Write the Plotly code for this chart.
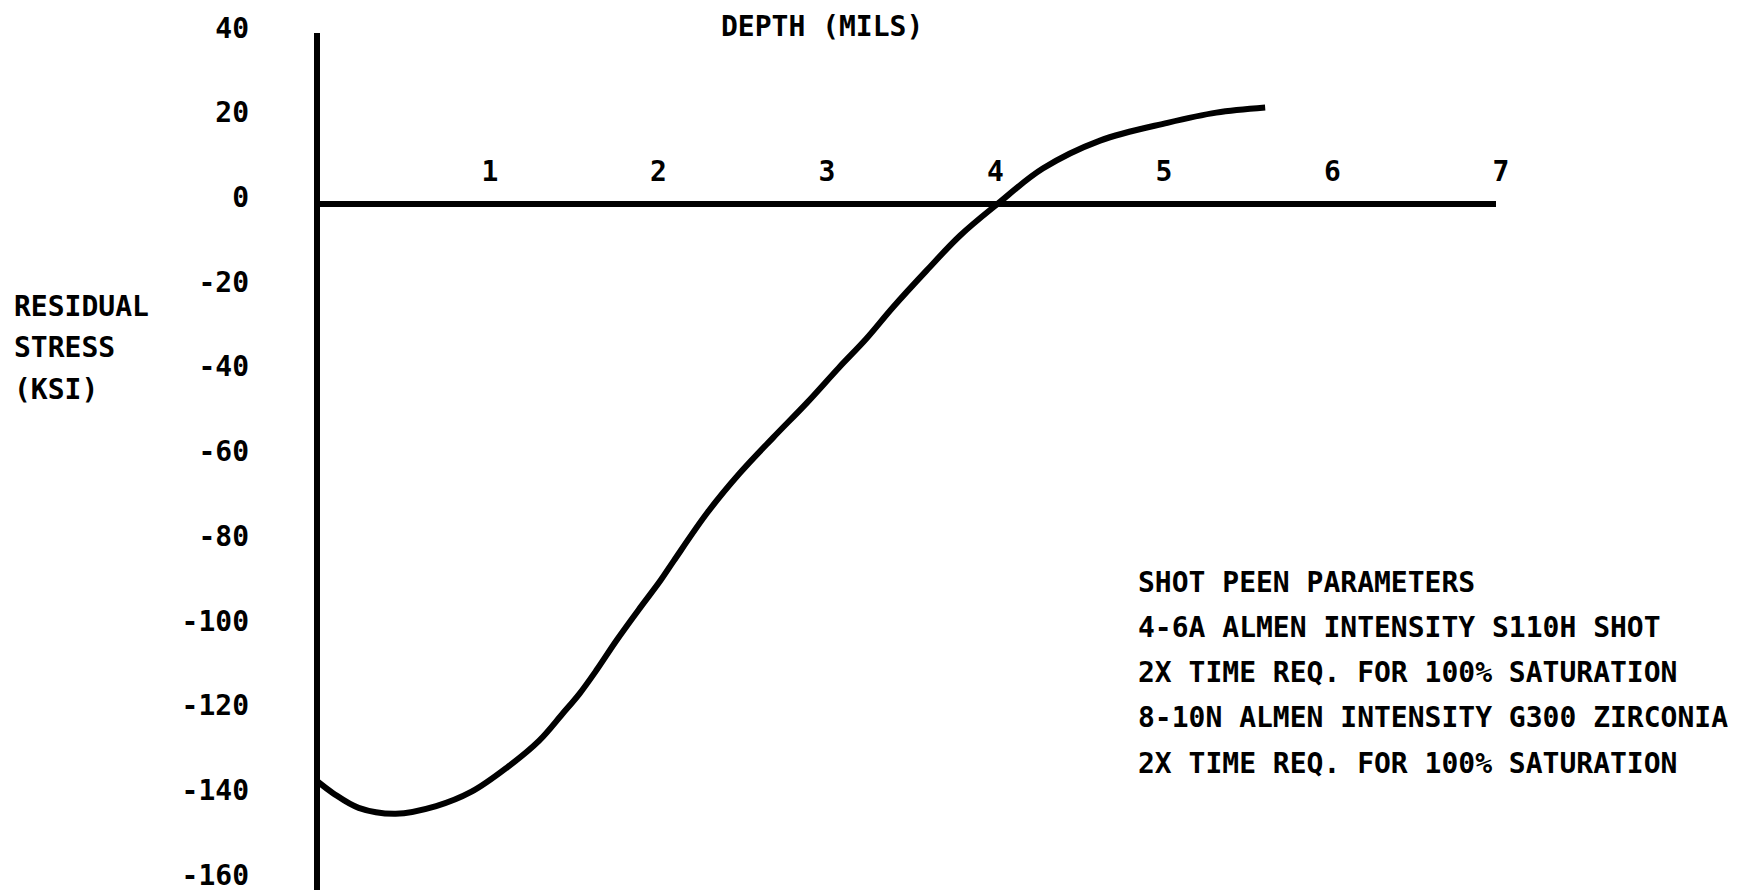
import plotly.graph_objects as go

# Residual stress profile vs. depth below the peened surface
depth_mils = [0.0, 0.1, 0.25, 0.47, 0.71, 0.92, 1.13, 1.32, 1.46, 1.56, 1.66, 1.78,
              1.92, 2.04, 2.12, 2.32, 2.51, 2.71, 2.91, 3.10, 3.26, 3.42, 3.62, 3.82,
              4.04, 4.31, 4.65, 5.05, 5.34, 5.63]
stress_ksi = [-136.1, -139.1, -142.5, -143.9, -142.1, -138.7, -133.0, -126.7, -120.3, -115.6,
              -110.1, -103.0, -95.3, -88.9, -84.2, -72.8, -63.6, -55.1, -46.9, -38.6,
              -31.9, -24.4, -15.7, -7.4, 0.0, 8.4, 15.0, 19.2, 21.6, 22.8]

x_ticks = [1, 2, 3, 4, 5, 6, 7]
x_tick_labels = ["1", "2", "3", "4", "5", "6", "7"]
y_ticks = [40, 20, 0, -20, -40, -60, -80, -100, -120, -140, -160]
y_tick_labels = ["40", "20", "0", "-20", "-40", "-60", "-80", "-100", "-120", "-140", "-160"]

x_title = "DEPTH (MILS)"
y_title_lines = ["RESIDUAL", "STRESS", "(KSI)"]
note_lines = [
    "SHOT PEEN PARAMETERS",
    "4-6A ALMEN INTENSITY S110H SHOT",
    "2X TIME REQ. FOR 100% SATURATION",
    "8-10N ALMEN INTENSITY G300 ZIRCONIA",
    "2X TIME REQ. FOR 100% SATURATION",
]

# Page geometry
W, H = 1748, 893
X_RANGE = [-0.015, 7.0]
Y_RANGE = [-161.9, 40.4]
ML, MT = 314, 33
PLOT_W, PLOT_H = 1182, 857
MR, MB = W - ML - PLOT_W, H - MT - PLOT_H

FONT = "DejaVu Sans Mono"
FS = 28
INK = "#000000"
TEXT_FONT = dict(family=FONT, size=FS, color=INK, weight="bold")


def paper_x(px):
    return (px - ML) / PLOT_W


def paper_y(py):
    return 1 - (py - MT) / PLOT_H


fig = go.Figure()
fig.add_trace(go.Scatter(
    x=depth_mils, y=stress_ksi, mode="lines",
    line=dict(color=INK, width=6, shape="spline", smoothing=1.0),
    hoverinfo="skip", showlegend=False,
))

# position of the stress = 0 line, as a fraction of the plot height
zero_pos = (0 - Y_RANGE[0]) / (Y_RANGE[1] - Y_RANGE[0])

annotations = [dict(
    text=x_title, xref="paper", yref="paper", x=paper_x(822), y=paper_y(26),
    xanchor="center", yanchor="middle", showarrow=False, font=TEXT_FONT,
)]
for i, line in enumerate(y_title_lines):
    annotations.append(dict(
        text=line, xref="paper", yref="paper", x=paper_x(12), y=paper_y(306 + 41.5 * i),
        xanchor="left", yanchor="middle", showarrow=False, font=TEXT_FONT,
    ))
for i, line in enumerate(note_lines):
    annotations.append(dict(
        text=line, xref="paper", yref="paper", x=paper_x(1136), y=paper_y(582 + 45.3 * i),
        xanchor="left", yanchor="middle", showarrow=False, font=TEXT_FONT,
    ))

fig.update_layout(
    width=W, height=H,
    margin=dict(l=ML, r=MR, t=MT, b=MB, pad=0, autoexpand=False),
    paper_bgcolor="white", plot_bgcolor="white",
    showlegend=False,
    annotations=annotations,
    xaxis=dict(
        range=X_RANGE, anchor="free", position=zero_pos, side="top",
        tickmode="array", tickvals=x_ticks, ticktext=x_tick_labels,
        ticks="", showline=False, showgrid=False,
        zeroline=True, zerolinecolor=INK, zerolinewidth=6,
        ticklabelstandoff=18, ticklabelshift=5,
        tickfont=TEXT_FONT, ticklabeloverflow="allow",
        automargin=False, fixedrange=True,
    ),
    yaxis=dict(
        range=Y_RANGE,
        tickmode="array", tickvals=y_ticks, ticktext=y_tick_labels,
        ticks="", showline=False, showgrid=False,
        zeroline=True, zerolinecolor=INK, zerolinewidth=6,
        ticklabelstandoff=64, ticklabelshift=-7,
        tickfont=TEXT_FONT, ticklabeloverflow="allow",
        automargin=False, fixedrange=True,
    ),
)

fig.write_html("out.html", config={"displayModeBar": False})
